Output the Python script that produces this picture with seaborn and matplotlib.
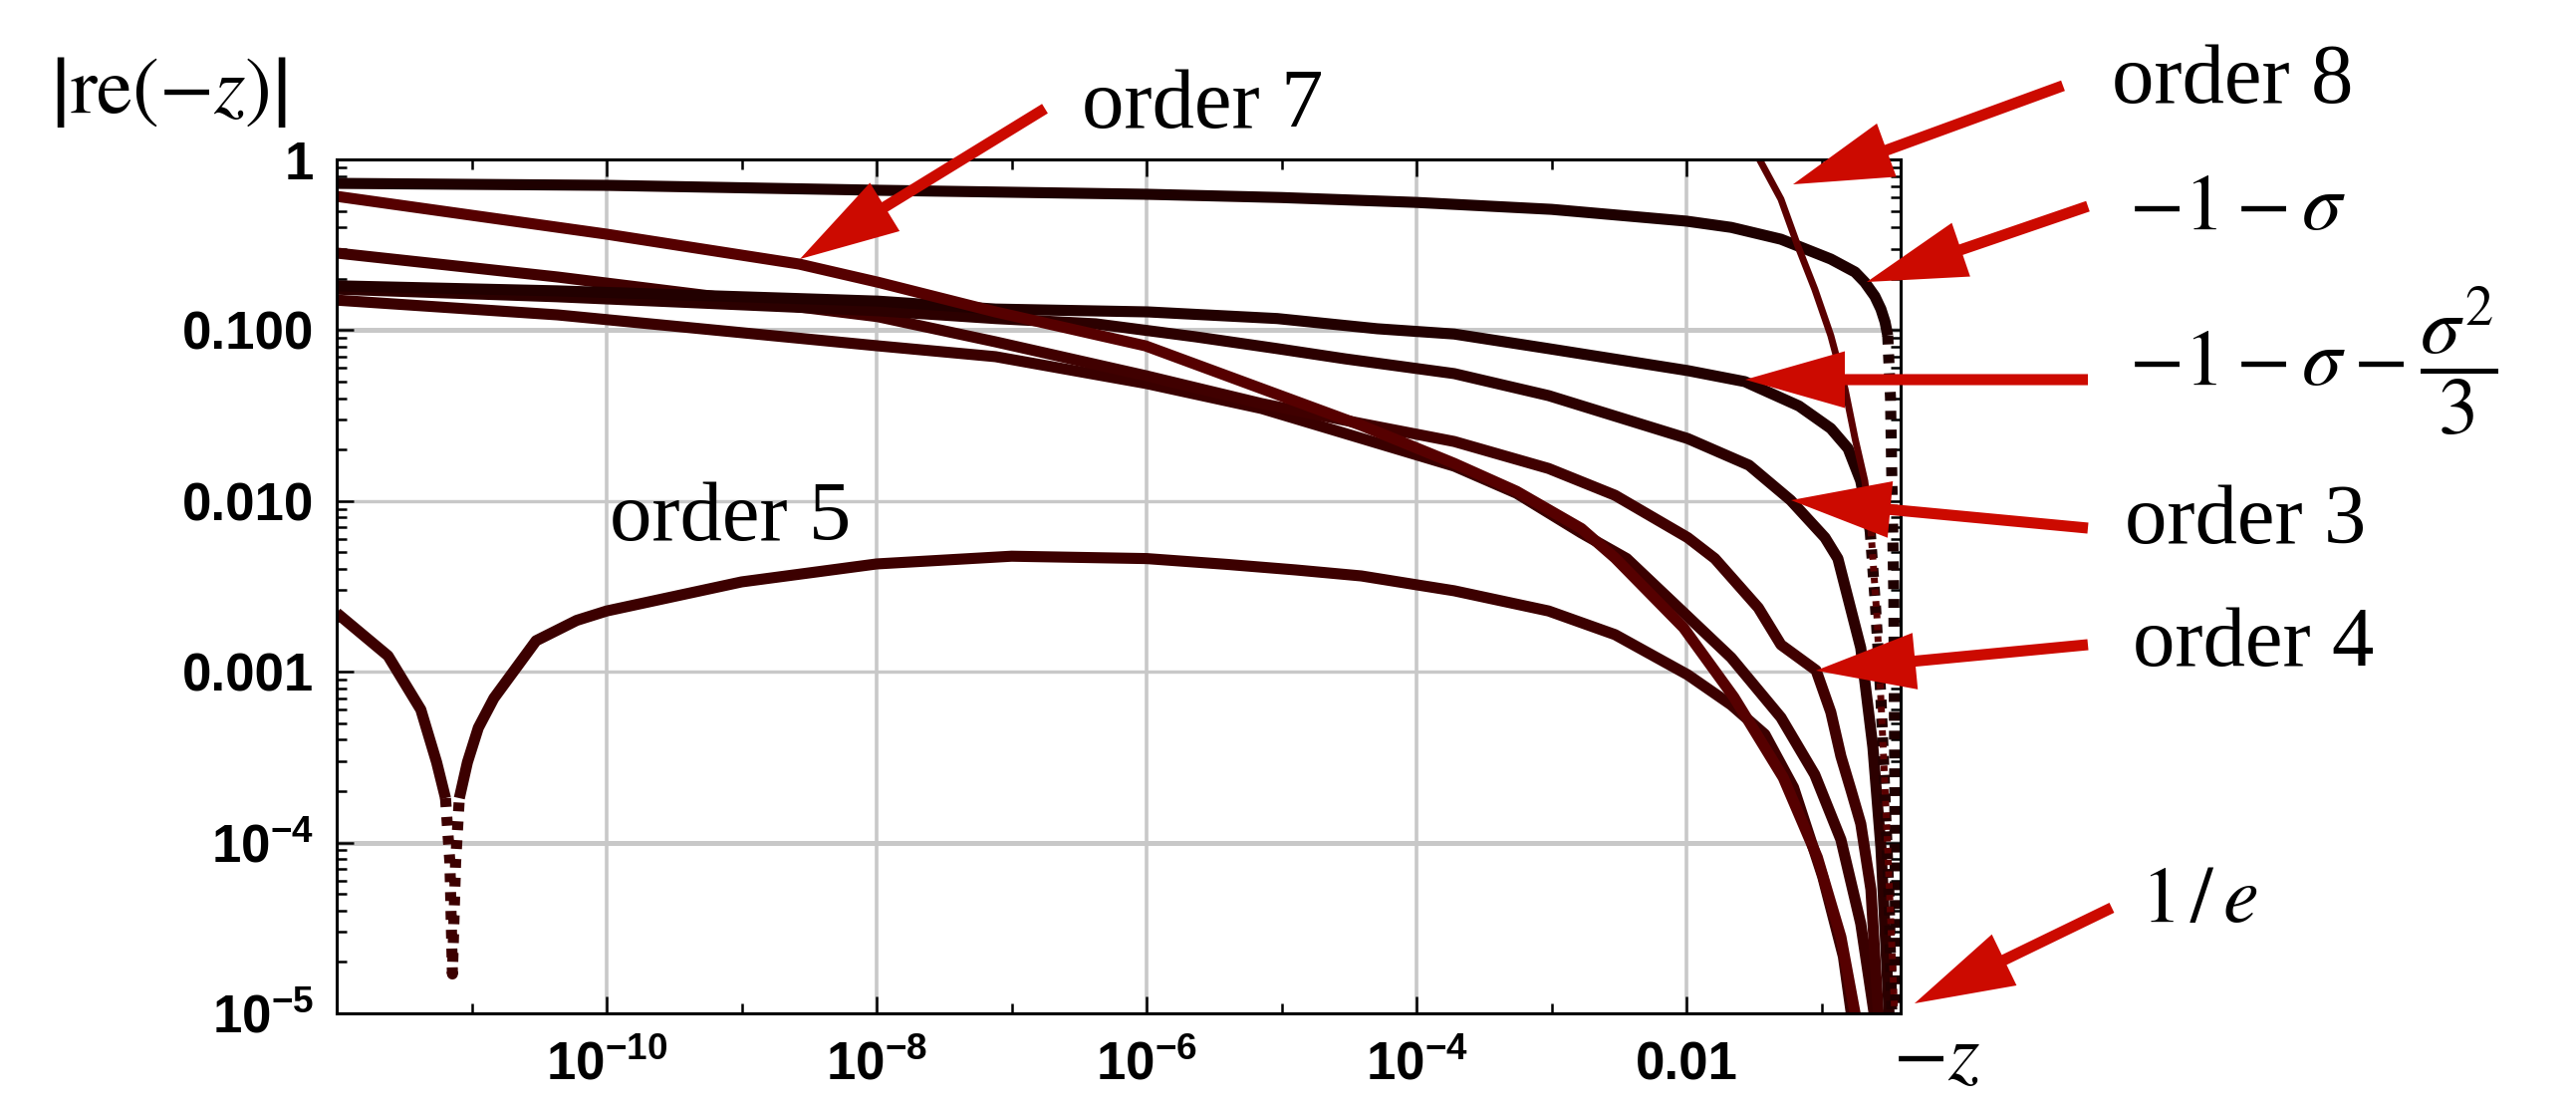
import matplotlib
matplotlib.use('Agg')
import matplotlib.pyplot as plt
from matplotlib.ticker import FixedLocator, NullFormatter, LogLocator
import numpy as np
import seaborn as sns

# curves: x is -z, y is |re(-z)|
sig1_x = [1e-12, 1e-10, 1e-8, 1e-6, 1e-5, 1e-4, 1e-3, 1e-2, 0.0214, 0.050, 0.117, 0.177, 0.209, 0.248, 0.275,
          0.295, 0.309, 0.324, 0.343, 0.355]
sig1_y = [0.724, 0.705, 0.660, 0.625, 0.598, 0.560, 0.510, 0.435, 0.400, 0.341, 0.261, 0.219, 0.191, 0.158, 0.133,
          0.112, 0.093, 0.040, 0.0027, 1e-5]

sig2_x = [1e-12, 4.3e-11, 1.02e-8, 7.6e-8, 1.02e-6, 9.3e-6, 5.1e-5, 1.9e-4, 9.5e-4, 1.02e-2, 2.7e-2, 6.8e-2,
          0.117, 0.157, 0.195, 0.229, 0.251, 0.275, 0.295, 0.316, 0.331]
sig2_y = [0.182, 0.170, 0.148, 0.133, 0.128, 0.117, 0.102, 0.095, 0.078, 0.058, 0.050, 0.036,
          0.0266, 0.0203, 0.0131, 0.0067, 0.0024, 7.1e-4, 1.85e-4, 4.8e-5, 1e-5]

ord3_x = [1e-12, 4.3e-11, 1.02e-8, 7.6e-8, 4.2e-7, 2.3e-6, 9.3e-6, 2.95e-5, 1.9e-4, 9.5e-4, 1.02e-2, 2.9e-2,
          5.9e-2, 0.106, 0.132, 0.195, 0.240, 0.275, 0.299, 0.316]
ord3_y = [0.174, 0.157, 0.130, 0.117, 0.109, 0.0915, 0.078, 0.068, 0.0557, 0.0414, 0.0232, 0.0162,
          0.0101, 0.0061, 0.0046, 0.00138, 3.6e-4, 9.4e-5, 2.5e-5, 1e-5]

ord4_x = [1e-12, 4.3e-11, 1.02e-8, 7.6e-8, 9.8e-7, 7.1e-6, 3.9e-5, 1.9e-4, 9.5e-4, 2.95e-3, 1.02e-2, 1.62e-2,
          3.4e-2, 5.0e-2, 9.1e-2, 0.117, 0.139, 0.166, 0.195, 0.232, 0.263]
ord4_y = [0.283, 0.205, 0.120, 0.0855, 0.0542, 0.0372, 0.0284, 0.0223, 0.0155, 0.0108, 0.0061, 0.0046,
          0.00237, 0.00144, 0.00102, 5.8e-4, 3.2e-4, 2.0e-4, 1.29e-4, 5.3e-5, 1e-5]

ord7_x = [1e-12, 1e-10, 2.66e-9, 1.02e-8, 7.6e-8, 9.8e-7, 7.1e-6, 3.9e-5, 1.9e-4, 5.5e-4, 1.66e-3, 2.95e-3,
          9.5e-3, 2.24e-2, 5.2e-2, 9.3e-2, 0.139, 0.177]
ord7_y = [0.608, 0.365, 0.244, 0.191, 0.128, 0.081, 0.0455, 0.0277, 0.0166, 0.0114, 0.0069, 0.00464,
          0.00181, 7.1e-4, 2.4e-4, 8.2e-5, 2.8e-5, 1e-5]

# curve without its own label
other_x = [1e-12, 4.3e-11, 1.02e-8, 7.6e-8, 1.0e-6, 7.1e-6, 1.9e-4, 5.5e-4, 1.66e-3, 3.6e-3, 2.14e-2, 5.0e-2,
           8.9e-2, 0.139, 0.195, 0.245]
other_y = [0.150, 0.123, 0.081, 0.070, 0.0487, 0.0348, 0.016, 0.0111, 0.0065, 0.0046, 0.00121, 5.4e-4,
           2.5e-4, 1.04e-4, 3.35e-5, 1e-5]

ord5_x = [1e-12, 2.4e-12, 4.2e-12, 5.5e-12, 6.4e-12, 6.9e-12, 7.2e-12, 7.6e-12, 8.1e-12, 9.3e-12, 1.12e-11,
          1.46e-11, 3.0e-11, 6.0e-11, 1e-10, 1e-9, 1e-8, 1e-7, 1e-6, 4.0e-6, 1.26e-5, 3.9e-5, 1e-4, 1.9e-4,
          9.5e-4, 2.95e-3, 1.02e-2, 2.14e-2, 3.8e-2, 6.2e-2, 0.102, 0.145, 0.166]
ord5_y = [2.21e-3, 1.24e-3, 6.0e-4, 2.95e-4, 1.82e-4, 7.6e-5, 1.7e-5, 7.6e-5, 1.82e-4, 2.95e-4, 4.7e-4,
          7.0e-4, 1.52e-3, 2.0e-3, 2.27e-3, 3.36e-3, 4.28e-3, 4.75e-3, 4.6e-3, 4.25e-3, 3.95e-3, 3.64e-3,
          3.23e-3, 2.98e-3, 2.27e-3, 1.65e-3, 9.6e-4, 6.4e-4, 4.3e-4, 2.1e-4, 6.3e-5, 2.15e-5, 1e-5]

ord8_x = [0.0288, 0.050, 0.0668, 0.089, 0.117, 0.149, 0.177, 0.209, 0.232, 0.257, 0.279, 0.304, 0.331, 0.348]
ord8_y = [1.31, 0.585, 0.31, 0.174, 0.093, 0.0455, 0.0232, 0.0131, 0.0067, 0.0021, 5.4e-4, 1.23e-4, 2.5e-5, 1e-5]

x_ticks = [1e-10, 1e-8, 1e-6, 1e-4, 1e-2]
x_ticklabels = [r'$10^{-10}$', r'$10^{-8}$', r'$10^{-6}$', r'$10^{-4}$', '0.01']
y_ticks = [1e-5, 1e-4, 1e-3, 1e-2, 1e-1, 1]
y_ticklabels = [r'$10^{-5}$', r'$10^{-4}$', '0.001', '0.010', '0.100', '1']

plt.rcParams['font.family'] = 'Liberation Sans'
plt.rcParams['mathtext.fontset'] = 'custom'
plt.rcParams['mathtext.rm'] = 'Liberation Sans:bold'
plt.rcParams['mathtext.it'] = 'Liberation Sans:bold:italic'
plt.rcParams['mathtext.bf'] = 'Liberation Sans:bold'

W, H = 2586, 1113
fig = plt.figure(figsize=(W / 100, H / 100), dpi=100)
ax = fig.add_axes([338 / W, 96 / H, 1570 / W, 857 / H])
ax.set_xscale('log')
ax.set_yscale('log')

# grid
for xv in x_ticks:
    ax.axvline(xv, color='#c8c8c8', lw=2.6, zorder=0.5)
for yv, w in zip([1e-1, 1e-2, 1e-3, 1e-4], [3.6, 2.4, 2.4, 3.6]):
    ax.axhline(yv, color='#c8c8c8', lw=w, zorder=0.5)


def draw(x, y, color, lw, dotted=None):
    n = len(x)
    if dotted is None:
        segs = [(0, n, False)]
    else:
        a, b = dotted
        segs = [(0, a + 1, False), (a, b + 1, True), (b, n, False)]
    for i0, i1, dots in segs:
        if i1 - i0 < 2:
            continue
        sns.lineplot(x=x[i0:i1], y=y[i0:i1], ax=ax, color=color, linewidth=lw,
                     sort=False, estimator=None)
        line = ax.lines[-1]
        line.set_solid_capstyle('butt')
        line.set_solid_joinstyle('round')
        if dots:
            line.set_linestyle((0, (0.8, 0.9)))


draw(ord5_x, ord5_y, '#3c0000', 8, dotted=(4, 8))
draw(other_x, other_y, '#3a0000', 8)
draw(ord4_x, ord4_y, '#400000', 8)
draw(ord3_x, ord3_y, '#2c0000', 8)
draw(sig2_x, sig2_y, '#220000', 8, dotted=(15, len(sig2_x) - 1))
draw(ord7_x, ord7_y, '#560000', 8)
draw(sig1_x, sig1_y, '#1e0000', 8, dotted=(16, len(sig1_x) - 1))
draw(ord8_x, ord8_y, '#5a0000', 5, dotted=(8, len(ord8_x) - 1))

ax.set_xlim(1e-12, 0.385)
ax.set_ylim(1e-5, 1)
ax.set_xlabel('')
ax.set_ylabel('')

ax.xaxis.set_major_locator(FixedLocator(x_ticks))
ax.set_xticklabels(x_ticklabels, fontweight='bold')
ax.xaxis.set_minor_locator(FixedLocator([1e-11, 1e-9, 1e-7, 1e-5, 1e-3, 1e-1]))
ax.xaxis.set_minor_formatter(NullFormatter())
ax.yaxis.set_major_locator(FixedLocator(y_ticks))
ax.set_yticklabels(y_ticklabels, fontweight='bold')
ax.yaxis.set_minor_locator(LogLocator(base=10, subs=np.arange(2, 10) * 1.0, numticks=20))
ax.yaxis.set_minor_formatter(NullFormatter())

ax.tick_params(which='both', direction='in', top=True, right=True, width=1.8, colors='black',
               labelsize=38)
ax.tick_params(which='major', length=12)
ax.tick_params(which='minor', length=7.5)
ax.tick_params(axis='x', which='major', pad=19.5)
ax.tick_params(axis='y', which='major', pad=16.5)
for s in ax.spines.values():
    s.set_linewidth(2.2)
    s.set_color('black')
    s.set_zorder(5)

# red arrows (figure pixels, origin bottom left)
arrow_color = '#cc0a00'
arrows = [((1049, 109), (803, 260)),
          ((2071, 86), (1800, 185)),
          ((2096, 207), (1874, 283)),
          ((2096, 381), (1752, 381)),
          ((2096, 530), (1798, 502)),
          ((2096, 647), (1823, 673)),
          ((2120, 911), (1922, 1007))]
for (tx, ty), (hx, hy) in arrows:
    ax.annotate('', xy=(hx, H - hy), xytext=(tx, H - ty),
                xycoords='figure pixels', textcoords='figure pixels',
                arrowprops=dict(arrowstyle='simple,head_length=72,head_width=41,tail_width=8',
                                mutation_scale=1, color=arrow_color, lw=0,
                                shrinkA=0, shrinkB=0), zorder=6)

# labels, placed by left edge and baseline in pixels
labels = [('order 7', 1086, 128, False),
          ('order 8', 2120, 103, False),
          (r'$-1-\sigma$', 2137, 230, True),
          (r'$-1-\sigma-\dfrac{\sigma^2}{3}$', 2137, 387, True),
          ('order 3', 2133, 545, False),
          ('order 4', 2141, 668, False),
          (r'$1\,/\,e$', 2149, 925, True),
          ('order 5', 612, 542, False),
          (r'$\left|\mathrm{re}\left(-z\right)\right|$', 50, 113, True),
          (r'$-z$', 1900, 1083, True)]
for s, px, py, is_math in labels:
    t = fig.text(px / W, 1 - py / H, s, ha='left', va='baseline',
                 fontsize=61 if not is_math else 58, family='Liberation Serif',
                 fontweight='normal', color='black')
    if is_math:
        t.set_math_fontfamily('stix')

fig.savefig('out.png', dpi=100, facecolor='white')
